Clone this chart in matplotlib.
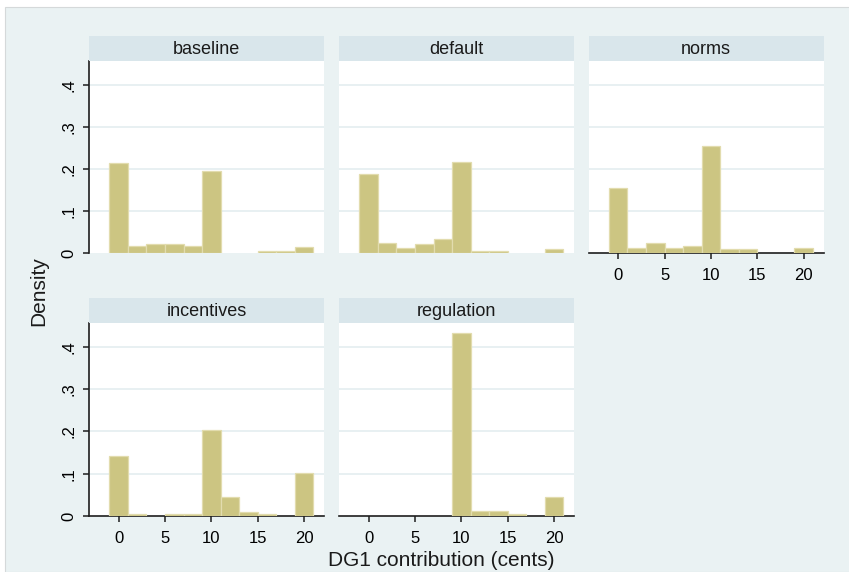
import matplotlib
matplotlib.use("Agg")
import matplotlib.pyplot as plt
from matplotlib.patches import Rectangle

# Histogram bins (left edges, width 2 cents)
bin_left = [-1, 1, 3, 5, 7, 9, 11, 13, 15, 17, 19]
bin_width = 2

# Density per bin for each treatment
baseline = [0.215, 0.017, 0.021, 0.021, 0.017, 0.196, 0.0, 0.0, 0.006, 0.006, 0.014]
default = [0.188, 0.024, 0.013, 0.021, 0.033, 0.218, 0.006, 0.006, 0.0, 0.0, 0.0095]
norms = [0.156, 0.013, 0.025, 0.013, 0.017, 0.256, 0.0095, 0.0095, 0.0, 0.0, 0.013]
incentives = [0.143, 0.0055, 0.0, 0.0055, 0.0055, 0.203, 0.044, 0.0095, 0.0055, 0.0, 0.101]
regulation = [0.0, 0.0, 0.0, 0.0, 0.0, 0.432, 0.0127, 0.0127, 0.0055, 0.0, 0.046]

panel_names = ["baseline", "default", "norms", "incentives", "regulation"]
panel_values = [baseline, default, norms, incentives, regulation]

x_ticks = [0, 5, 10, 15, 20]
y_ticks = [0, 0.1, 0.2, 0.3, 0.4]
y_tick_labels = ["0", ".1", ".2", ".3", ".4"]

x_title = "DG1 contribution (cents)"
y_title = "Density"

# Styling
W, H = 849, 572
bg_color = "#EAF2F3"
strip_color = "#D9E6EB"
grid_color = "#E6EFF1"
bar_fill = "#CCC582"
bar_edge = "#E2DCAE"
axis_color = "#1E1E1E"
font = ["Liberation Sans", "DejaVu Sans"]
plt.rcParams["font.family"] = font

fig = plt.figure(figsize=(W / 100, H / 100), dpi=100, facecolor="white")
fig.patches.append(Rectangle((5 / W, 0), 1, 1 - 7 / H, transform=fig.transFigure,
                             facecolor=bg_color, edgecolor="#D5D9DA", lw=0.8, zorder=-10))

col_left = [89, 339, 588.5]
panel_w = 235.5
row_top = [61, 322.7]
row_bottom = [253.3, 516]
strip_h = 25

slots = [(0, 0), (0, 1), (0, 2), (1, 0), (1, 1)]

for name, vals, (r, c) in zip(panel_names, panel_values, slots):
    left = col_left[c] / W
    bottom = 1 - row_bottom[r] / H
    height = (row_bottom[r] - row_top[r]) / H
    ax = fig.add_axes([left, bottom, panel_w / W, height])
    ax.set_facecolor("white")

    xs = [b for b, v in zip(bin_left, vals) if v > 0]
    hs = [v for v in vals if v > 0]
    ax.bar(xs, hs, width=bin_width, align="edge", color=bar_fill,
           edgecolor=bar_edge, linewidth=0.9, zorder=3)

    ax.set_xlim(-3.2, 22.2)
    ax.set_ylim(0, 0.457)
    ax.set_yticks(y_ticks)
    ax.set_yticklabels(y_tick_labels)
    ax.set_xticks(x_ticks)
    for y in y_ticks[1:]:
        ax.axhline(y, color=grid_color, lw=1.3, zorder=1)

    for s in ax.spines.values():
        s.set_visible(False)

    show_y = c == 0
    show_x = (r == 1) or (c == 2)
    if show_y:
        ax.spines["left"].set_visible(True)
        ax.spines["left"].set_color(axis_color)
        ax.spines["left"].set_linewidth(1.2)
        ax.tick_params(axis="y", length=4, width=1.1, color=axis_color,
                       labelsize=12, pad=5, labelrotation=90)
        for lbl in ax.get_yticklabels():
            lbl.set_verticalalignment("center")
    else:
        ax.tick_params(axis="y", left=False, labelleft=False)
    if show_x:
        ax.spines["bottom"].set_visible(True)
        ax.spines["bottom"].set_color(axis_color)
        ax.spines["bottom"].set_linewidth(1.2)
        ax.tick_params(axis="x", length=4.5, width=1.1, color=axis_color,
                       labelsize=12, pad=6)
    else:
        ax.tick_params(axis="x", bottom=False, labelbottom=False)

    # Panel strip with the treatment name
    sax = fig.add_axes([left, 1 - (row_top[r]) / H, panel_w / W, strip_h / H])
    sax.set_facecolor(strip_color)
    sax.set_xticks([])
    sax.set_yticks([])
    for s in sax.spines.values():
        s.set_visible(False)
    sax.text(0.5, 0.45, name, ha="center", va="center", fontsize=13,
             color="#1A1A1A", transform=sax.transAxes)

fig.text(441 / W, 1 - 561 / H, x_title, ha="center", va="center",
         fontsize=15, color="#1A1A1A")
fig.text(39 / W, 1 - 291 / H, y_title, ha="center", va="center",
         fontsize=15, rotation=90, color="#1A1A1A")

fig.savefig("out.png", dpi=100, facecolor="white")
